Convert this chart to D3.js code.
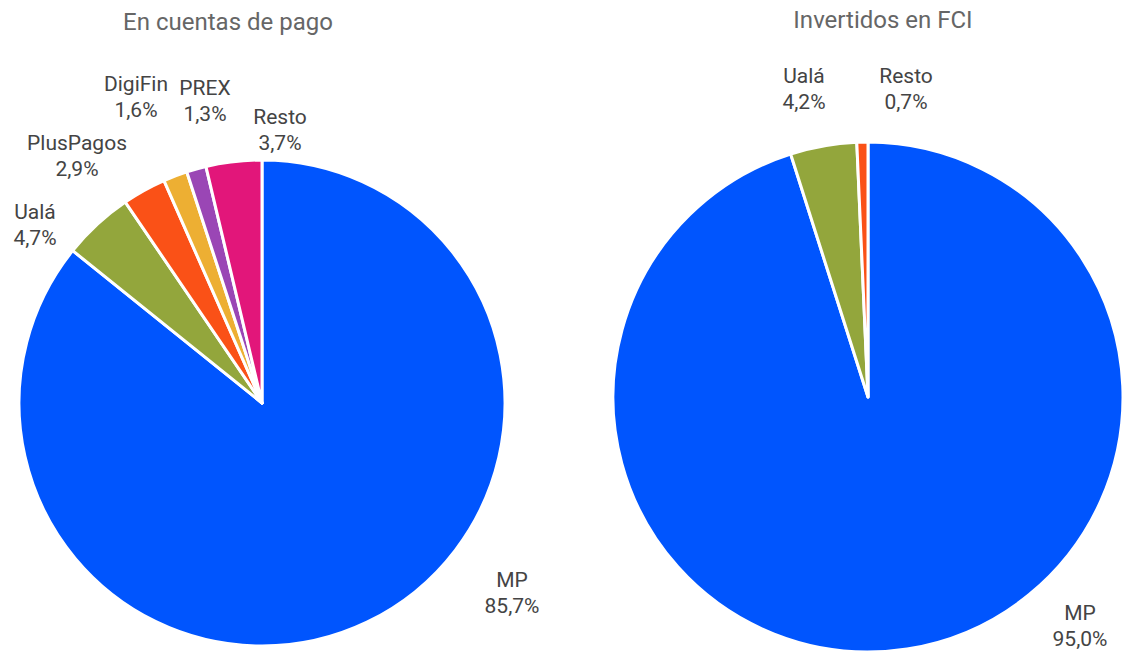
<!DOCTYPE html>
<html><head><meta charset="utf-8">
<script src="https://cdn.jsdelivr.net/npm/d3@7"></script>
<style>body{margin:0;background:#fff;font-family:Roboto,sans-serif}</style>
</head><body>
<svg id="c" width="1123" height="653"></svg>
<script>
const leftCats = ["MP","Ualá","PlusPagos","DigiFin","PREX","Resto"];
const leftVals = [85.7,4.7,2.9,1.6,1.3,3.7];
const rightCats = ["MP","Ualá","Resto"];
const rightVals = [95.0,4.2,0.7];
const titles = ["En cuentas de pago","Invertidos en FCI"];
const colorMap = {"MP":"#0055FE","Ualá":"#93A63C","PlusPagos":"#FA5117","DigiFin":"#EDAF33","PREX":"#9A46B5","Resto":"#E2167A"};
const rightColorMap = {"MP":"#0055FE","Ualá":"#93A63C","Resto":"#FA5117"};

const svg = d3.select("#c");
const fmt = v => d3.format(".1f")(v).replace(".", ",") + "%";

// layout: pie geometry + label anchor offsets relative to center
const charts = [
  {cats:leftCats, vals:leftVals, colors:colorMap, title:titles[0], cx:262, cy:403, r:243, tx:228, ty:22,
   lab:{"MP":[250,190],"Ualá":[-227,-178],"PlusPagos":[-185,-247],"DigiFin":[-126,-306],"PREX":[-57,-302],"Resto":[18,-273]}},
  {cats:rightCats, vals:rightVals, colors:rightColorMap, title:titles[1], cx:868, cy:397, r:255, tx:883, ty:20,
   lab:{"MP":[212,229],"Ualá":[-64,-308],"Resto":[38,-308]}}
];

charts.forEach(ch => {
  const g = svg.append("g").attr("transform", `translate(${ch.cx},${ch.cy})`);
  const data = ch.cats.map((c,i)=>({cat:c, val:ch.vals[i]}));
  const pie = d3.pie().value(d=>d.val).sort(null);
  const arc = d3.arc().innerRadius(0).outerRadius(ch.r);
  g.selectAll("path").data(pie(data)).join("path")
    .attr("d", arc).attr("fill", d=>ch.colors[d.data.cat])
    .attr("stroke","#fff").attr("stroke-width",3).attr("stroke-linejoin","round");
  svg.append("text").attr("x", ch.tx).attr("y", ch.ty).attr("text-anchor","middle")
    .attr("dominant-baseline","central").attr("font-size",24).attr("fill","#666").text(ch.title);
  data.forEach(d => {
    const o = ch.lab[d.cat];
    const t = g.append("text").attr("text-anchor","middle").attr("font-size",21).attr("fill","#444");
    t.append("tspan").attr("x",o[0]).attr("y",o[1]-13).attr("dominant-baseline","central").text(d.cat);
    t.append("tspan").attr("x",o[0]).attr("y",o[1]+13).attr("dominant-baseline","central").text(fmt(d.val));
  });
});
</script>
</body></html>
